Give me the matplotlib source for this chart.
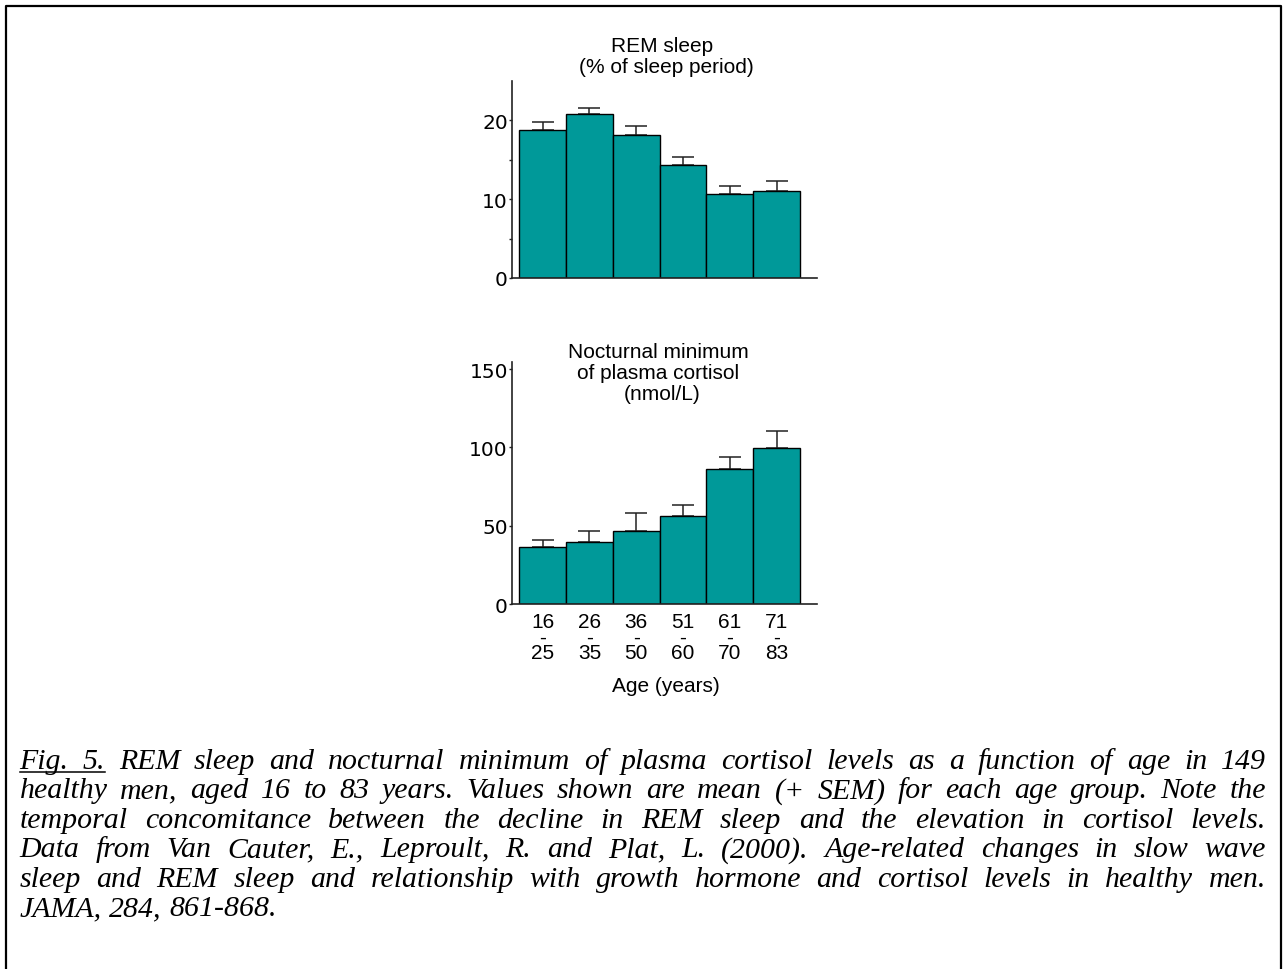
import matplotlib.pyplot as plt
from matplotlib.lines import Line2D
import numpy as np

# data
age_groups = ["16\n-\n25", "26\n-\n35", "36\n-\n50", "51\n-\n60", "61\n-\n70", "71\n-\n83"]
rem_mean = [18.8, 20.8, 18.2, 14.3, 10.6, 11.0]
rem_sem = [1.0, 0.8, 1.1, 1.1, 1.1, 1.3]
cortisol_mean = [36.5, 39.7, 47.0, 56.4, 86.5, 99.6]
cortisol_sem = [4.3, 7.1, 11.5, 7.2, 7.3, 11.0]

caption_lines = [
    "Fig. 5. REM sleep and nocturnal minimum of plasma cortisol levels as a function of age in 149",
    "healthy men, aged 16 to 83 years. Values shown are mean (+ SEM) for each age group. Note the",
    "temporal concomitance between the decline in REM sleep and the elevation in cortisol levels.",
    "Data from Van Cauter, E., Leproult, R. and Plat, L. (2000). Age-related changes in slow wave",
    "sleep and REM sleep and relationship with growth hormone and cortisol levels in healthy men.",
    "JAMA, 284, 861-868.",
]

W, H = 1283, 970
BAR = "#009999"
SANS = "Liberation Sans"

fig = plt.figure(figsize=(W / 100, H / 100), dpi=100)


def px(x, y):
    return x / W, 1 - y / H


def panel(rect, means, sems, ylim, yticks, minor=None):
    l, t, r, b = rect
    ax = fig.add_axes([l / W, 1 - b / H, (r - l) / W, (b - t) / H])
    x = np.arange(len(means))
    ax.bar(x, means, width=1.0, color=BAR, edgecolor="black", linewidth=1.0, zorder=2)
    ax.errorbar(x, means, yerr=[np.zeros(len(sems)), sems], fmt="none",
                ecolor="#222222", elinewidth=1.1, capsize=7.9, capthick=1.1, zorder=1)
    ax.set_xlim(-0.656, 5.863)
    ax.set_ylim(*ylim)
    ax.set_yticks(yticks)
    if minor:
        ax.set_yticks(minor, minor=True)
    for s in ["top", "right"]:
        ax.spines[s].set_visible(False)
    for s in ["left", "bottom"]:
        ax.spines[s].set_linewidth(1.2)
        ax.spines[s].set_color("#222222")
    ax.tick_params(axis="y", which="both", length=2.5, width=1.0, pad=0.5,
                   labelsize=14.5, color="#222222")
    for lab in ax.get_yticklabels():
        lab.set_family("DejaVu Sans")
    ax.tick_params(axis="x", length=0)
    return ax


ax1 = panel((512, 82, 817, 279), rem_mean, rem_sem, (0, 25), [0, 10, 20], [5, 15])
ax1.set_xticks([])

ax2 = panel((512, 363, 817, 605.3), cortisol_mean, cortisol_sem, (0, 154.5), [0, 50, 100, 150])
ax2.set_xticks(np.arange(len(age_groups)))
ax2.set_xticklabels(age_groups, fontsize=15, family=SANS, linespacing=0.78)
ax2.tick_params(axis="x", pad=5.5)

# panel titles
fig.text(*px(662, 51.7), "REM sleep", ha="center", va="baseline", fontsize=15, family=SANS)
fig.text(*px(666, 73), "(% of sleep period)", ha="center", va="baseline", fontsize=15, family=SANS)
fig.text(*px(658, 358), "Nocturnal minimum", ha="center", va="baseline", fontsize=15, family=SANS)
fig.text(*px(658, 379), "of plasma cortisol", ha="center", va="baseline", fontsize=15, family=SANS)
fig.text(*px(662, 400), "(nmol/L)", ha="center", va="baseline", fontsize=15, family=SANS)
fig.text(*px(666, 692), "Age (years)", ha="center", va="baseline", fontsize=15, family=SANS)

# caption, justified by hand
renderer = fig.canvas.get_renderer()
left, right = 19.5, 1266
baselines = [769, 798.4, 827.8, 857.2, 886.6, 916]
cap_kw = dict(fontsize=21.5, family="Liberation Serif", style="italic", va="baseline", ha="left")
for i, (line, yb) in enumerate(zip(caption_lines, baselines)):
    words = line.split(" ")
    texts = [fig.text(0, 0, w, **cap_kw) for w in words]
    widths = [t.get_window_extent(renderer).width for t in texts]
    if i < len(caption_lines) - 1:
        gap = (right - left - sum(widths)) / (len(words) - 1)
    else:
        gap = fig.text(0, 0, " ", **cap_kw).get_window_extent(renderer).width
    xpos = left
    for j, (t, w) in enumerate(zip(texts, widths)):
        t.set_position(px(xpos, yb))
        if i == 0 and j == 1:
            fig_end = xpos + w
        xpos += w + gap

# underline under "Fig. 5."
fig.add_artist(Line2D([left / W, fig_end / W], [1 - (769 + 4) / H] * 2, color="black", linewidth=1.1))

# frame around the figure (open at the bottom)
fx = [6 / W, 6 / W, 1280.5 / W, 1280.5 / W]
fy = [0, 1 - 6.5 / H, 1 - 6.5 / H, 0]
fig.add_artist(Line2D(fx, fy, color="black", linewidth=1.6))

fig.savefig("out.png", dpi=100)
